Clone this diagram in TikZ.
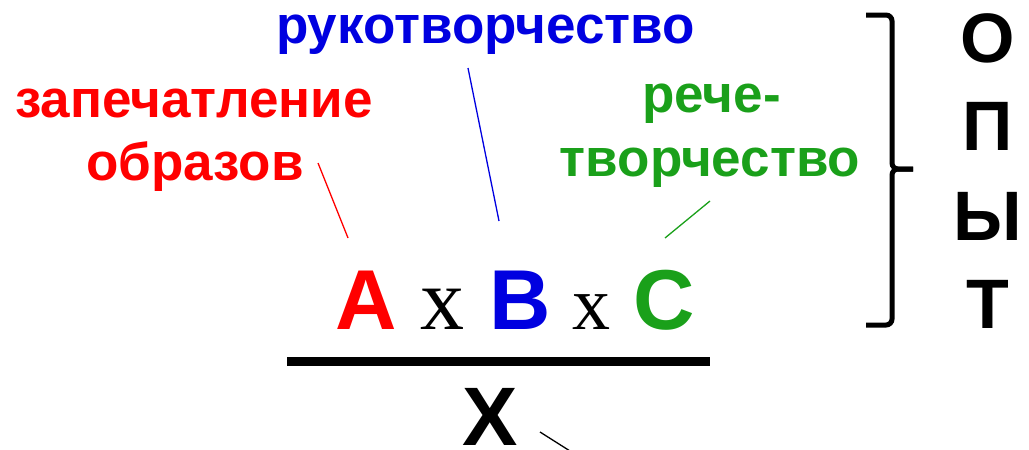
\documentclass[tikz,border=0pt]{standalone}
\usepackage{fontspec}
\setmainfont{Liberation Sans}
\newfontfamily\timesf{Liberation Serif}
\definecolor{cred}{RGB}{255,0,0}
\definecolor{cblue}{RGB}{0,0,224}
\definecolor{cgreen}{RGB}{26,160,26}
\tikzset{
  lbl/.style={inner sep=0pt, anchor=base, font=\fontsize{53}{60}\selectfont\bfseries},
  big/.style={inner sep=0pt, anchor=base, font=\fontsize{85}{90}\selectfont\bfseries},
  opyt/.style={inner sep=0pt, anchor=base, font=\fontsize{70}{75}\selectfont\bfseries},
  timesx/.style={inner sep=0pt, anchor=base, font=\fontsize{#1}{#1}\selectfont\timesf},
  pointer/.style={line width=1.3pt},
}
\begin{document}
\begin{tikzpicture}[x=1pt,y=-1pt]
\useasboundingbox (0,0) rectangle (1029,450);
% labels
\node[lbl, text=cred] (l1) at (194,117) {запечатление};
\node[lbl, text=cred] (l2) at (195,180) {образов};
\node[lbl, text=cblue] (l3) at (485.5,43) {рукотворчество};
\node[lbl, text=cgreen] (l4) at (711.5,112) {рече-};
\node[lbl, text=cgreen] (l5) at (710,176) {творчество};
% formula
\node[big, text=cred] (A) at (366,329) {A};
\node[timesx=88] (x1) at (442,329) {x};
\node[big, text=cblue] (B) at (520,329) {B};
\node[timesx=76] (x2) at (591,329) {x};
\node[big, text=cgreen] (C) at (664,329) {C};
\coordinate (fl) at (287,361.5);
\coordinate (fr) at (710,361.5);
\draw[line width=9pt] (fl) -- (fr);
\node[big, font=\fontsize{83}{90}\selectfont\bfseries] (X) at (490,445) {X};
% pointers
\coordinate (p1a) at (318,163); \coordinate (p1b) at (348,238);
\coordinate (p2a) at (468,68);  \coordinate (p2b) at (499,221);
\coordinate (p3a) at (710,201); \coordinate (p3b) at (665,238);
\coordinate (p4a) at (540,432); \coordinate (p4b) at (570,451);
\draw[pointer, cred] (p1a) -- (p1b);
\draw[pointer, cblue] (p2a) -- (p2b);
\draw[pointer, cgreen] (p3a) -- (p3b);
\draw[pointer, black] (p4a) -- (p4b);
% brace
\coordinate (bt) at (866,15);
\coordinate (bb) at (866,325);
\coordinate (bm) at (892,169);
\coordinate (tip) at (913,169);
\draw[line width=5pt, rounded corners=6pt] (bt) -- (892,15) -- (bm) -- (tip);
\draw[line width=5pt, rounded corners=6pt] (bb) -- (892,325) -- (bm) -- (tip);
% ОПЫТ
\node[opyt] (o1) at (988,62) {О};
\node[opyt] (o2) at (988,150) {П};
\node[opyt] (o3) at (988,240) {Ы};
\node[opyt] (o4) at (988,328) {Т};
\end{tikzpicture}
\end{document}
